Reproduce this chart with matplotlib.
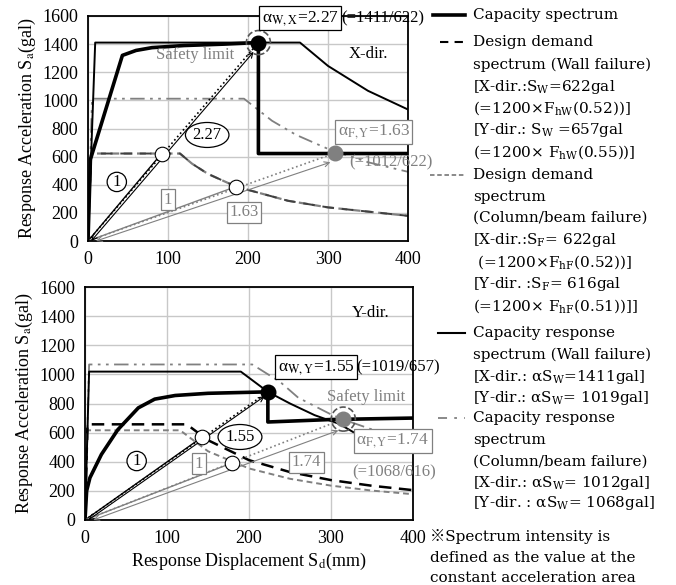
import numpy as np
import matplotlib
matplotlib.use('Agg')
import matplotlib.pyplot as plt

plt.rcParams['font.family'] = ['Liberation Serif', 'DejaVu Serif']
plt.rcParams['mathtext.fontset'] = 'stix'

GREY = '#808080'

# ---------------- X-direction (top) ----------------
x_cap_sd = [0, 3, 43, 60, 80, 120, 170, 213, 213, 400]
x_cap_sa = [0, 580, 1320, 1355, 1375, 1390, 1400, 1411, 622, 622]
x_wall_sd = [0, 9, 265, 300, 350, 400]
x_wall_sa = [0, 1411, 1411, 1245, 1068, 935]
x_col_sd = [0, 5, 195, 230, 260, 300, 350, 400]
x_col_sa = [0, 1012, 1012, 855, 755, 655, 560, 492]
x_dem_sd = [0, 4, 115, 130, 150, 185, 250, 300, 400]
x_dem_sa = [0, 622, 622, 550, 477, 387, 286, 239, 179]
x_pt_wall = (213, 1411)
x_pt_col = (309, 626)
x_open = [(92, 622), (185, 387)]

# ---------------- Y-direction (bottom) ----------------
y_cap_sd = [0, 2, 6, 20, 40, 65, 85, 110, 150, 223, 223, 300, 400]
y_cap_sa = [0, 200, 290, 450, 620, 770, 830, 855, 870, 880, 673, 690, 700]
y_wall_sd = [0, 5, 190, 223, 250, 280, 310, 327]
y_wall_sa = [0, 1019, 1019, 880, 800, 720, 660, 604]
y_col_sd = [0, 5, 204, 238, 260, 300, 315, 355]
y_col_sa = [0, 1068, 1068, 948, 840, 725, 690, 612]
y_demw_sd = [0, 3, 124, 150, 200, 250, 300, 350, 400]
y_demw_sa = [0, 657, 657, 548, 411, 329, 274, 235, 205]
y_demf_sd = [0, 3, 116, 150, 200, 250, 300, 350, 400]
y_demf_sa = [0, 616, 616, 472, 354, 283, 236, 202, 177]
y_pt_wall = (223, 879)
y_pt_col = (315, 693)
y_open = [(143, 570), (179, 391)]

x_ticks = [0, 100, 200, 300, 400]
y_ticks = [0, 200, 400, 600, 800, 1000, 1200, 1400, 1600]

legend_lines = [
    'Capacity spectrum',
    'Design demand',
    'spectrum (Wall failure)',
    r'[X-dir.:S$_\mathrm{W}$=622gal',
    r'(=1200$\times$F$_\mathrm{hW}$(0.52))]',
    r'[Y-dir.: S$_\mathrm{W}$ =657gal',
    r'(=1200$\times$ F$_\mathrm{hW}$(0.55))]',
    'Design demand',
    'spectrum',
    '(Column/beam failure)',
    r'[X-dir.:S$_\mathrm{F}$= 622gal',
    r' (=1200$\times$F$_\mathrm{hF}$(0.52))]',
    r'[Y-dir. :S$_\mathrm{F}$= 616gal',
    r'(=1200$\times$ F$_\mathrm{hF}$(0.51))]]',
    'Capacity response',
    'spectrum (Wall failure)',
    r'[X-dir.: αS$_\mathrm{W}$=1411gal]',
    r'[Y-dir.: αS$_\mathrm{W}$= 1019gal]',
    'Capacity response',
    'spectrum',
    '(Column/beam failure)',
    r'[X-dir.: αS$_\mathrm{W}$= 1012gal]',
    r'[Y-dir. : αS$_\mathrm{W}$= 1068gal]',
]
legend_y_px = [15, 42, 65, 87, 108, 130, 152, 175, 197, 218, 240, 262, 284, 306,
               333, 355, 377, 398, 418, 440, 462, 483, 503]
note_lines = ['\u203bSpectrum intensity is', 'defined as the value at the',
              'constant acceleration area']
note_y_px = [537, 558, 578]

W, H = 676, 585
fig = plt.figure(figsize=(W / 100, H / 100), dpi=100)
ax1 = fig.add_axes([88 / W, 1 - 241 / H, 320 / W, 225 / H])
ax2 = fig.add_axes([85 / W, 1 - 520 / H, 328 / W, 233 / H])


def style(ax):
    ax.set_xlim(0, 400)
    ax.set_ylim(0, 1600)
    ax.set_xticks(x_ticks)
    ax.set_yticks(y_ticks)
    ax.grid(True, color='#c8c8c8', lw=1)
    ax.set_axisbelow(True)
    ax.tick_params(length=0, labelsize=13, pad=7)
    for s in ax.spines.values():
        s.set_linewidth(1.3)
    ax.set_ylabel(r'Response Acceleration S$_\mathrm{a}$(gal)', fontsize=13, labelpad=3)


def arrow(ax, p0, p1, color, lw=0.8, style='<->'):
    ax.annotate('', xy=p1, xytext=p0,
                arrowprops=dict(arrowstyle=style, color=color, lw=lw,
                                shrinkA=0, shrinkB=0, mutation_scale=9))


def box(ax, x, y, s, color, ha='center', fs=12, bstyle='square,pad=0.15'):
    ax.text(x, y, s, ha=ha, va='center', fontsize=fs, color=color, zorder=6,
            bbox=dict(boxstyle=bstyle, fc='white', ec=color, lw=0.9))


for ax in (ax1, ax2):
    style(ax)

# ---- top panel ----
ax1.plot(x_dem_sd, x_dem_sa, color=GREY, lw=1.6, ls=(0, (4, 2)))
ax1.plot(x_dem_sd, x_dem_sa, color='#404040', lw=1.4, ls=(0, (6, 4)))
ax1.plot(x_col_sd, x_col_sa, color=GREY, lw=1.3, ls=(0, (8, 3, 1.5, 3, 1.5, 3)))
ax1.plot(x_wall_sd, x_wall_sa, color='black', lw=1.4)
ax1.plot(x_cap_sd, x_cap_sa, color='black', lw=2.6)
ax1.plot([0, x_pt_wall[0]], [0, x_pt_wall[1]], color='black', lw=1.2, ls=':')
ax1.plot([0, x_open[0][0]], [0, x_open[0][1]], color='black', lw=1.0)
arrow(ax1, (4, 0), (207, 1345), 'black')
ax1.plot([0, x_pt_col[0]], [0, x_pt_col[1]], color=GREY, lw=1.2, ls=':')
ax1.plot([0, x_open[1][0]], [0, x_open[1][1]], color=GREY, lw=1.0)
arrow(ax1, (10, 0), (303, 560), GREY)
ax1.scatter(*x_pt_wall, s=110, color='black', zorder=5)
ax1.scatter(*x_pt_wall, s=300, facecolors='none', edgecolors='#555555',
            linestyle='--', lw=1.2, zorder=5)
ax1.scatter(*x_pt_col, s=110, color=GREY, zorder=5)
for p in x_open:
    ax1.scatter(*p, s=110, facecolors='white', edgecolors='black', lw=0.8, zorder=5)

box(ax1, 217, 1585, r'α$_\mathrm{W,X}$=2.27', 'black', ha='left', fs=12.5)
ax1.text(317, 1585, '(=1411/622)', fontsize=12, va='center', ha='left')
ax1.text(350, 1330, 'X-dir.', fontsize=12, ha='center', va='center')
ax1.text(134, 1323, 'Safety limit', fontsize=12, ha='center', va='center', color=GREY)
box(ax1, 149, 754, '2.27', 'black', bstyle='ellipse,pad=0.05')
box(ax1, 36, 420, '1', 'black', bstyle='circle,pad=0.1')
box(ax1, 100, 292, '1', GREY)
box(ax1, 195, 206, '1.63', GREY)
box(ax1, 312, 775, r'α$_\mathrm{F,Y}$=1.63', GREY, ha='left', fs=12.5)
ax1.text(326, 562, '(=1012/622)', fontsize=12, color=GREY, ha='left', va='center')

# ---- bottom panel ----
ax2.plot(y_demf_sd, y_demf_sa, color=GREY, lw=1.4, ls=(0, (3, 2)))
ax2.plot(y_demw_sd, y_demw_sa, color='black', lw=1.8, ls=(0, (5, 3)))
ax2.plot(y_col_sd, y_col_sa, color=GREY, lw=1.3, ls=(0, (8, 3, 1.5, 3, 1.5, 3)))
ax2.plot(y_wall_sd, y_wall_sa, color='black', lw=1.4)
ax2.plot(y_cap_sd, y_cap_sa, color='black', lw=2.6)
ax2.plot([0, y_pt_wall[0]], [0, y_pt_wall[1]], color='black', lw=1.2, ls=':')
ax2.plot([0, y_open[0][0]], [0, y_open[0][1]], color='black', lw=1.0)
arrow(ax2, (4, 0), (219, 850), 'black')
ax2.plot([0, y_pt_col[0]], [0, y_pt_col[1]], color=GREY, lw=1.2, ls=':')
ax2.plot([0, y_open[1][0]], [0, y_open[1][1]], color=GREY, lw=1.0)
arrow(ax2, (10, 0), (309, 615), GREY)
ax2.scatter(*y_pt_wall, s=110, color='black', zorder=5)
ax2.scatter(*y_pt_col, s=110, color=GREY, zorder=5)
ax2.scatter(*y_pt_col, s=300, facecolors='none', edgecolors='#555555',
            linestyle='--', lw=1.2, zorder=5)
for p in y_open:
    ax2.scatter(*p, s=110, facecolors='white', edgecolors='black', lw=0.8, zorder=5)

box(ax2, 235, 1050, r'α$_\mathrm{W,Y}$=1.55', 'black', ha='left', fs=12.5)
ax2.text(331, 1050, '(=1019/657)', fontsize=12, va='center', ha='left')
ax2.text(348, 1420, 'Y-dir.', fontsize=12, ha='center', va='center')
ax2.text(343, 845, 'Safety limit', fontsize=12, ha='center', va='center', color=GREY)
box(ax2, 189, 570, '1.55', 'black', bstyle='ellipse,pad=0.05')
box(ax2, 63, 405, '1', 'black', bstyle='circle,pad=0.1')
box(ax2, 139, 385, '1', GREY)
box(ax2, 270, 398, '1.74', GREY)
box(ax2, 331, 543, r'α$_\mathrm{F,Y}$=1.74', GREY, ha='left', fs=12.5)
ax2.text(326, 330, '(=1068/616)', fontsize=12, color=GREY, ha='left', va='center')
ax2.set_xlabel(r'Response Displacement S$_\mathrm{d}$(mm)', fontsize=13, labelpad=3)

# ---- legend (drawn as free text on the right) ----
for s, yp in zip(legend_lines, legend_y_px):
    fig.text(473 / W, 1 - yp / H, s, fontsize=11, family='DejaVu Serif',
             math_fontfamily='dejavuserif', va='center', ha='left')
for s, yp in zip(note_lines, note_y_px):
    fig.text(430 / W, 1 - yp / H, s, fontsize=11,
             family=['DejaVu Serif', 'Noto Sans CJK JP'], va='center', ha='left')

samples = [((433, 465), 15, dict(color='black', lw=2.6)),
           ((440, 465), 42, dict(color='black', lw=1.5, ls=(0, (4, 3)))),
           ((430, 465), 175, dict(color=GREY, lw=1.3, ls=(0, (2.5, 1.5)))),
           ((438, 465), 333, dict(color='black', lw=1.5)),
           ((438, 465), 418, dict(color=GREY, lw=1.3, ls=(0, (5, 4, 1.5, 4))))]
for (x0, x1), yp, kw in samples:
    fig.add_artist(plt.Line2D([x0 / W, x1 / W], [1 - yp / H, 1 - yp / H],
                              transform=fig.transFigure, **kw))

fig.savefig('out.png', dpi=100)
